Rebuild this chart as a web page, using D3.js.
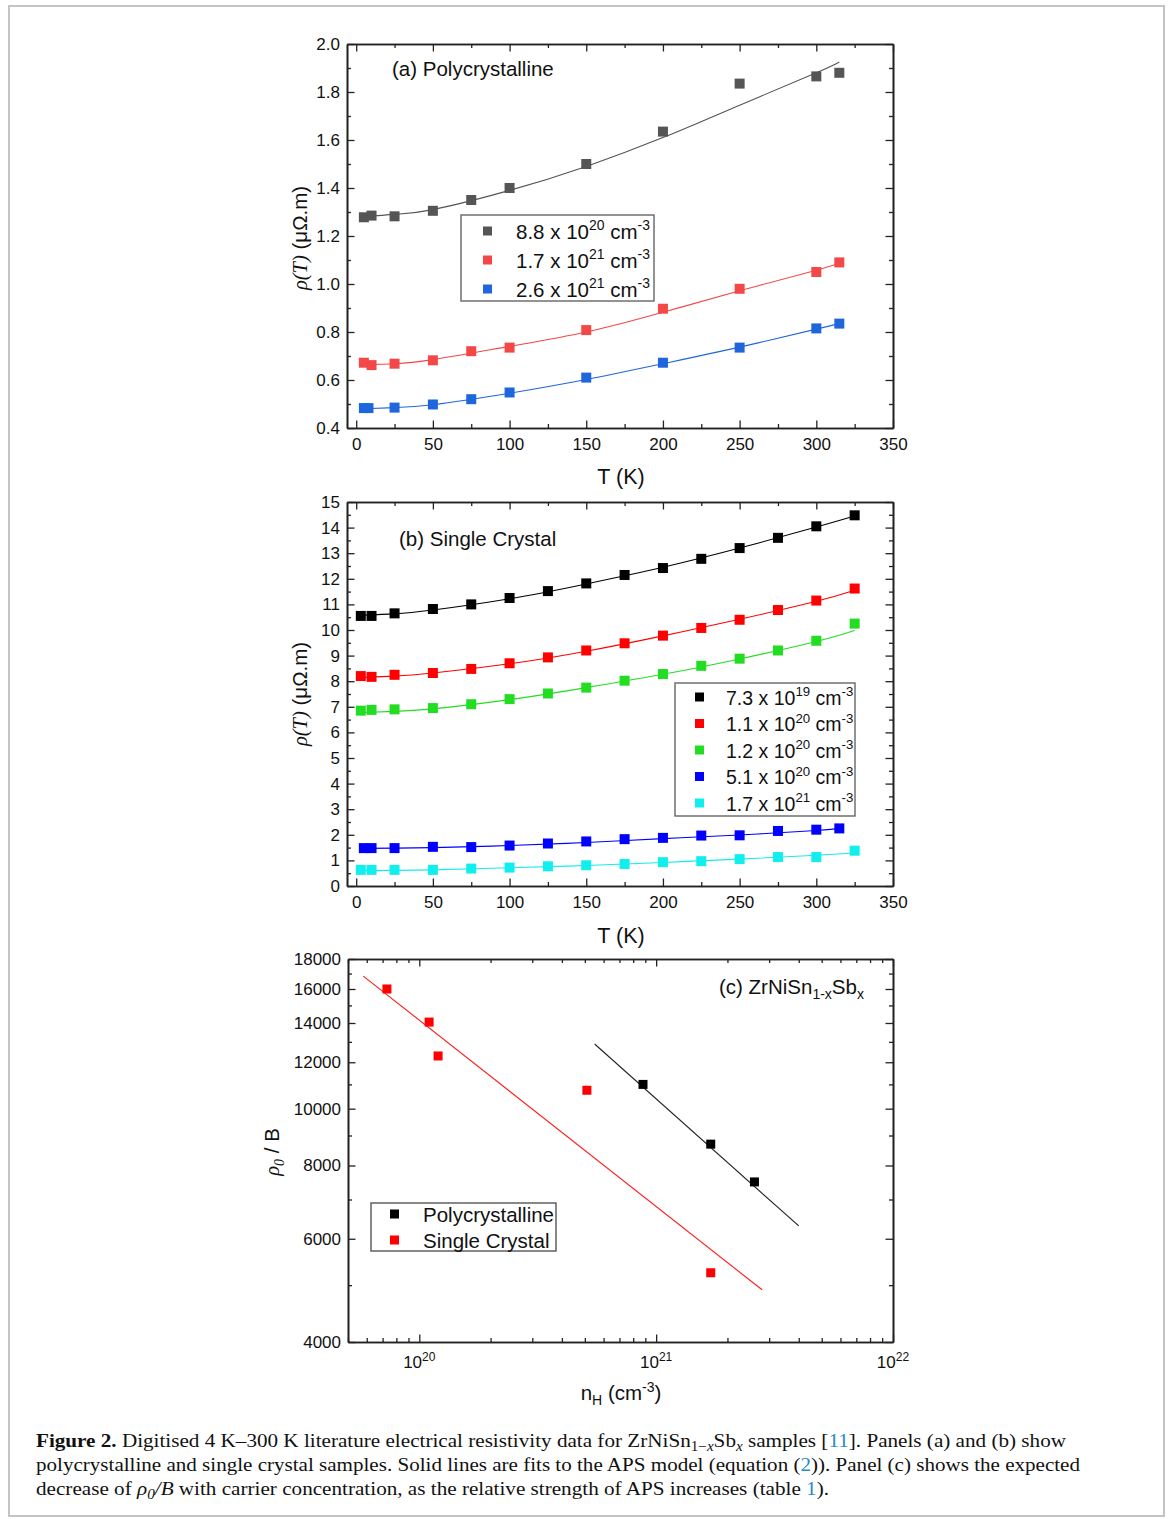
<!DOCTYPE html>
<html><head><meta charset="utf-8">
<script src="https://cdn.jsdelivr.net/npm/d3@7"></script>
<style>
body{margin:0;background:#fff}
svg{display:block}
text{font-family:"Liberation Sans",Arial,sans-serif;fill:#111}
</style>
</head><body>
<svg id="fig" width="1171" height="1519"></svg>
<script>
// ---------- Panel (a) data : polycrystalline ----------
const tempA = [5,10,25,50,75,100,150,200,250,300,315];
const polyA_88e20 = [1.278,1.285,1.282,1.305,1.35,1.40,1.50,1.635,1.835,1.865,1.88];
const polyA_17e21 = [0.672,0.662,0.668,0.682,0.72,0.735,0.808,0.897,0.98,1.05,1.09];
const polyA_26e21 = [0.483,0.483,0.485,0.498,0.52,0.548,0.61,0.672,0.735,0.815,0.835];
const tempA_blue = [5,8,25,50,75,100,150,200,250,300,315];
const fitTA = [5,25,50,100,150,200,250,300,315];
const fitA_88e20 = [1.28,1.29,1.31,1.39,1.49,1.61,1.745,1.88,1.925];
const fitA_17e21 = [0.665,0.668,0.685,0.74,0.80,0.882,0.972,1.057,1.087];
const fitA_26e21 = [0.48,0.485,0.497,0.545,0.602,0.668,0.737,0.812,0.835];
const legendA = [["8.8","20"],["1.7","21"],["2.6","21"]];

// ---------- Panel (b) data : single crystal ----------
const tempB = [3,10,25,50,75,100,125,150,175,200,225,250,275,300,325];
const tempB_blue = [5,10,25,50,75,100,125,150,175,200,225,250,275,300,315];
const scB_73e19 = [10.55,10.55,10.65,10.82,11.0,11.25,11.52,11.82,12.15,12.42,12.78,13.2,13.6,14.05,14.48];
const scB_11e20 = [8.2,8.17,8.25,8.32,8.48,8.7,8.93,9.2,9.48,9.78,10.08,10.4,10.78,11.15,11.62];
const scB_12e20 = [6.85,6.88,6.9,6.95,7.1,7.3,7.52,7.75,8.02,8.28,8.6,8.88,9.2,9.58,10.25];
const scB_51e20 = [1.48,1.48,1.48,1.53,1.52,1.58,1.66,1.74,1.83,1.88,1.97,1.98,2.15,2.2,2.25];
const scB_17e21 = [0.63,0.63,0.63,0.63,0.68,0.72,0.77,0.81,0.86,0.93,0.97,1.05,1.13,1.13,1.38];
const fitTB = [4,25,50,100,150,200,250,300,325];
const fitTB_blue = [4,25,50,100,150,200,250,300,315];
const fitB_73e19 = [10.58,10.63,10.78,11.22,11.8,12.45,13.2,14.02,14.45];
const fitB_11e20 = [8.15,8.2,8.32,8.68,9.17,9.77,10.42,11.12,11.55];
const fitB_12e20 = [6.78,6.82,6.92,7.28,7.75,8.27,8.87,9.55,9.98];
const fitB_51e20 = [1.47,1.48,1.5,1.58,1.7,1.85,1.99,2.17,2.24];
const fitB_17e21 = [0.6,0.61,0.63,0.71,0.8,0.92,1.05,1.2,1.29];
const legendB = [["7.3","19"],["1.1","20"],["1.2","20"],["5.1","20"],["1.7","21"]];

// ---------- Panel (c) data : rho0/B vs nH ----------
const nH_poly = [8.8e20,1.7e21,2.6e21];
const rhoB_poly = [11000,8700,7500];
const nH_sc = [7.3e19,1.1e20,1.2e20,5.1e20,1.7e21];
const rhoB_sc = [16000,14050,12300,10750,5250];
const fitC_poly_n = [5.5e20,4.0e21];
const fitC_poly_v = [12890,6310];
const fitC_sc_n = [5.8e19,2.8e21];
const fitC_sc_v = [16830,4910];
const ticksC_y = [4000,6000,8000,10000,12000,14000,16000,18000];
const ticksC_x = [1e20,1e21,1e22];

// ---------- colours ----------
const colA = ["#555555","#f44848","#1f66dd"];
const colB = ["#000000","#ff0000","#22dd22","#0000ff","#11eeee"];

const svg = d3.select("#fig");
svg.append("rect").attr("x",9).attr("y",6).attr("width",1155).attr("height",1510)
  .attr("fill","none").attr("stroke","#c4c4c4").attr("stroke-width",2);

const TICKFS = 17;
function frame(g, x, y, xMaj, xMin, yMaj, yMin, xFmt, yFmt){
  const [b,t] = y.range(), [l,r] = x.range();
  const st = s => s.call(a=>a.select(".domain").attr("stroke","#222").attr("stroke-width",1.6))
                   .call(a=>a.selectAll(".tick line").attr("stroke","#222").attr("stroke-width",1.3))
                   .call(a=>a.selectAll("text").attr("font-size",TICKFS).attr("fill","#111")
                        .style("font-family","'Liberation Sans',Arial,sans-serif"));
  g.append("g").attr("transform",`translate(0,${b})`)
    .call(d3.axisBottom(x).tickValues(xMaj).tickSize(-7.5).tickSizeOuter(0).tickPadding(10).tickFormat(xFmt)).call(st);
  g.append("g").attr("transform",`translate(0,${b})`)
    .call(d3.axisBottom(x).tickValues(xMin).tickSize(-4).tickSizeOuter(0).tickFormat("")).call(st);
  g.append("g").attr("transform",`translate(0,${t})`)
    .call(d3.axisTop(x).tickValues(xMaj).tickSize(-7.5).tickSizeOuter(0).tickFormat("")).call(st);
  g.append("g").attr("transform",`translate(0,${t})`)
    .call(d3.axisTop(x).tickValues(xMin).tickSize(-4).tickSizeOuter(0).tickFormat("")).call(st);
  g.append("g").attr("transform",`translate(${l},0)`)
    .call(d3.axisLeft(y).tickValues(yMaj).tickSize(-7.5).tickSizeOuter(0).tickPadding(7).tickFormat(yFmt)).call(st);
  g.append("g").attr("transform",`translate(${l},0)`)
    .call(d3.axisLeft(y).tickValues(yMin).tickSize(-4).tickSizeOuter(0).tickFormat("")).call(st);
  g.append("g").attr("transform",`translate(${r},0)`)
    .call(d3.axisRight(y).tickValues(yMaj).tickSize(-7.5).tickSizeOuter(0).tickFormat("")).call(st);
  g.append("g").attr("transform",`translate(${r},0)`)
    .call(d3.axisRight(y).tickValues(yMin).tickSize(-4).tickSizeOuter(0).tickFormat("")).call(st);
}

function squares(g, xs, ys, x, y, color, size){
  g.selectAll(null).data(xs.map((v,i)=>[v,ys[i]])).join("rect")
    .attr("x",d=>x(d[0])-size/2).attr("y",d=>y(d[1])-size/2)
    .attr("width",size).attr("height",size).attr("fill",color);
}
function fitLine(g, xs, ys, x, y, color, curve){
  g.append("path").datum(xs.map((v,i)=>[v,ys[i]]))
    .attr("d",d3.line().x(d=>x(d[0])).y(d=>y(d[1])).curve(curve||d3.curveNatural))
    .attr("fill","none").attr("stroke",color).attr("stroke-width",1.1);
}
function supText(g, x, y, base, exp, fs){
  const t = g.append("text").attr("x",x).attr("y",y).attr("font-size",fs);
  t.append("tspan").text(base+" x 10");
  t.append("tspan").attr("dy",-fs*0.42).attr("font-size",fs*0.68).text(exp);
  t.append("tspan").attr("dy",fs*0.42).text(" cm");
  t.append("tspan").attr("dy",-fs*0.42).attr("font-size",fs*0.68).text("-3");
  return t;
}
function rhoTitle(g, cx, cy){
  const t = g.append("text").attr("transform",`translate(${cx},${cy}) rotate(-90)`)
    .attr("text-anchor","middle").attr("font-size",20.5);
  t.append("tspan").style("font-family","'Liberation Serif',serif").attr("font-style","italic").text("ρ(T)");
  t.append("tspan").text(" (μΩ.m)");
}
const fmtLin = d3.format(".1f");

// ================= Panel (a) =================
{
  const g = svg.append("g");
  const x = d3.scaleLinear([-6,350],[347,893]);
  const y = d3.scaleLinear([0.4,2.0],[428,44]);
  frame(g,x,y,d3.range(0,351,50),d3.range(25,351,50),d3.range(0.4,2.01,0.2),d3.range(0.5,2.0,0.2),d3.format("d"),fmtLin);
  const sets = [[tempA,polyA_88e20,fitA_88e20],[tempA,polyA_17e21,fitA_17e21],[tempA_blue,polyA_26e21,fitA_26e21]];
  sets.forEach((s,i)=>{ fitLine(g,fitTA,s[2],x,y,colA[i]); });
  sets.forEach((s,i)=>{ squares(g,s[0],s[1],x,y,colA[i],10); });
  g.append("text").attr("x",392).attr("y",76).attr("font-size",20.5).text("(a) Polycrystalline");
  g.append("rect").attr("x",461).attr("y",215).attr("width",193).attr("height",86)
    .attr("fill","#fff").attr("stroke","#666").attr("stroke-width",1.4);
  legendA.forEach((d,i)=>{
    const cy = 231 + i*29;
    g.append("rect").attr("x",483).attr("y",cy-4.5).attr("width",9).attr("height",9).attr("fill",colA[i]);
    supText(g,516,cy+7.5,d[0],d[1],20.5);
  });
  g.append("text").attr("x",621).attr("y",484).attr("text-anchor","middle").attr("font-size",21.5).text("T (K)");
  rhoTitle(g,307,238);
}

// ================= Panel (b) =================
{
  const g = svg.append("g");
  const x = d3.scaleLinear([-6,350],[347,893]);
  const y = d3.scaleLinear([0,15],[886,502]);
  frame(g,x,y,d3.range(0,351,50),d3.range(25,351,50),d3.range(0,16,1),d3.range(0.5,15,1),d3.format("d"),d3.format("d"));
  const pts = [[tempB,scB_73e19,fitTB,fitB_73e19],[tempB,scB_11e20,fitTB,fitB_11e20],[tempB,scB_12e20,fitTB,fitB_12e20],
               [tempB_blue,scB_51e20,fitTB_blue,fitB_51e20],[tempB,scB_17e21,fitTB,fitB_17e21]];
  pts.forEach((s,i)=>fitLine(g,s[2],s[3],x,y,colB[i]));
  pts.forEach((s,i)=>squares(g,s[0],s[1],x,y,colB[i],10));
  g.append("text").attr("x",399).attr("y",546).attr("font-size",20.5).text("(b) Single Crystal");
  g.append("rect").attr("x",675).attr("y",683).attr("width",180).attr("height",133)
    .attr("fill","#fff").attr("stroke","#666").attr("stroke-width",1.4);
  legendB.forEach((d,i)=>{
    const cy = 697 + i*26.5;
    g.append("rect").attr("x",695).attr("y",cy-4.5).attr("width",9).attr("height",9).attr("fill",colB[i]);
    supText(g,726,cy+7.5,d[0],d[1],19.5);
  });
  g.append("text").attr("x",621).attr("y",943).attr("text-anchor","middle").attr("font-size",21.5).text("T (K)");
  rhoTitle(g,307,694);
}

// ================= Panel (c) =================
{
  const g = svg.append("g");
  const x = d3.scaleLog([5e19,1e22],[348,893]);
  const y = d3.scaleLog([4000,18000],[1342,959]);
  const xMin = [];
  [1e19,1e20,1e21].forEach(dec=>{ for(let k=2;k<=9;k++){ const v=k*dec; if(v>=5e19&&v<1e22) xMin.push(v);} });
  const yMin = d3.range(5000,18000,2000);
  frame(g,x,y,ticksC_x,xMin,ticksC_y,yMin,()=>"",d3.format("d"));
  ticksC_x.forEach(v=>{
    const t = g.append("text").attr("x",x(v)).attr("y",1368).attr("text-anchor","middle").attr("font-size",TICKFS);
    t.append("tspan").text("10");
    t.append("tspan").attr("dy",-7).attr("font-size",12).text(Math.round(Math.log10(v)));
  });
  fitLine(g,fitC_sc_n,fitC_sc_v,x,y,"#ff1a1a",d3.curveLinear);
  fitLine(g,fitC_poly_n,fitC_poly_v,x,y,"#222",d3.curveLinear);
  squares(g,nH_sc,rhoB_sc,x,y,"#ff0000",9);
  squares(g,nH_poly,rhoB_poly,x,y,"#000000",9);
  const lab = g.append("text").attr("x",719).attr("y",994).attr("font-size",20.5);
  lab.append("tspan").text("(c) ZrNiSn");
  lab.append("tspan").attr("dy",5).attr("font-size",14).text("1-x");
  lab.append("tspan").attr("dy",-5).text("Sb");
  lab.append("tspan").attr("dy",5).attr("font-size",14).text("x");
  g.append("rect").attr("x",371).attr("y",1203).attr("width",185).attr("height",48)
    .attr("fill","#fff").attr("stroke","#555").attr("stroke-width",1.4);
  [["Polycrystalline","#000"],["Single Crystal","#ff0000"]].forEach((d,i)=>{
    const cy = 1214 + i*26;
    g.append("rect").attr("x",390).attr("y",cy-4.5).attr("width",9).attr("height",9).attr("fill",d[1]);
    g.append("text").attr("x",423).attr("y",cy+7.5).attr("font-size",20.5).text(d[0]);
  });
  const xt = g.append("text").attr("x",621).attr("y",1400).attr("text-anchor","middle").attr("font-size",20.5);
  xt.append("tspan").text("n");
  xt.append("tspan").attr("dy",5).attr("font-size",14).text("H");
  xt.append("tspan").attr("dy",-5).text(" (cm");
  xt.append("tspan").attr("dy",-8).attr("font-size",14).text("-3");
  xt.append("tspan").attr("dy",8).text(")");
  const yt = g.append("text").attr("transform","translate(279,1152) rotate(-90)").attr("text-anchor","middle").attr("font-size",20.5);
  yt.append("tspan").style("font-family","'Liberation Serif',serif").attr("font-style","italic").text("ρ");
  yt.append("tspan").style("font-family","'Liberation Serif',serif").attr("font-style","italic").attr("dy",5).attr("font-size",14).text("0");
  yt.append("tspan").attr("dy",-5).text(" / B");
}

// ================= Caption =================
{
  const blue = "#2b8cc4";
  const serif = "'Liberation Serif','Times New Roman',serif";
  const lines = [
    {y:1447, len:1030, parts:[
      {t:"Figure 2.", w:"bold"},{t:" Digitised 4 K–300 K literature electrical resistivity data for ZrNiSn"},
      {t:"1−", sub:true},{t:"x", sub:true, it:true},{t:"Sb", up:true},{t:"x", sub:true, it:true},
      {t:" samples [", up:true},{t:"11", c:blue},{t:"]. Panels (a) and (b) show"}]},
    {y:1471, len:1044, parts:[
      {t:"polycrystalline and single crystal samples. Solid lines are fits to the APS model (equation ("},
      {t:"2", c:blue},{t:")). Panel (c) shows the expected"}]},
    {y:1495, len:793, parts:[
      {t:"decrease of "},{t:"ρ", it:true},{t:"0", sub:true, it:true},{t:"/B", it:true, up:true},
      {t:" with carrier concentration, as the relative strength of APS increases (table "},
      {t:"1", c:blue},{t:")."}]}
  ];
  lines.forEach(L=>{
    const t = svg.append("text").attr("x",36).attr("y",L.y).attr("font-size",19.5)
      .style("font-family",serif).attr("textLength",L.len).attr("lengthAdjust","spacingAndGlyphs");
    let down = false;
    L.parts.forEach(p=>{
      const s = t.append("tspan").text(p.t).style("font-family",serif);
      if(p.w) s.attr("font-weight",p.w);
      if(p.it) s.attr("font-style","italic");
      if(p.c) s.style("fill",p.c);
      if(p.sub){ s.attr("font-size",14); if(!down){ s.attr("dy",4); down=true; } }
      if(p.up && down){ s.attr("dy",-4); down=false; }
    });
  });
}
</script>
</body></html>
